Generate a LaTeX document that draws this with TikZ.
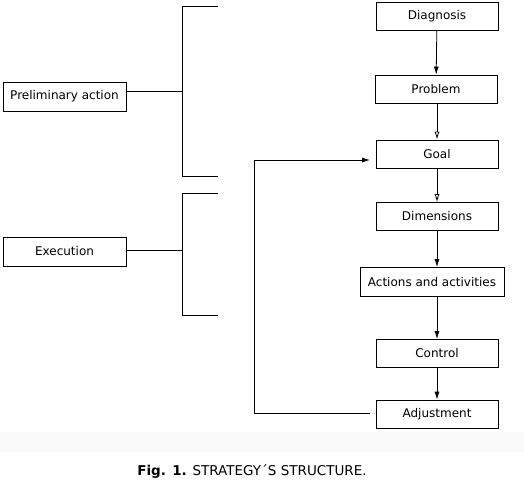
\documentclass[tikz,border=0pt]{standalone}
\usepackage{fontspec}
\setmainfont{DejaVu Sans}
\usetikzlibrary{arrows.meta}
\tikzset{
  stage/.style={draw, rectangle, line width=0.8pt, minimum width=122pt, minimum height=28pt, inner sep=2pt, align=center, font=\fontsize{12}{14}\selectfont},
  side/.style={draw, rectangle, line width=0.8pt, minimum width=123pt, minimum height=29pt, inner sep=2pt, align=center, font=\fontsize{12}{14}\selectfont},
  arrow/.style={line width=0.8pt, -{Latex[length=8pt,width=5pt]}},
  openarrow/.style={line width=0.8pt, -{Latex[open,length=8pt,width=5pt]}},
  bracket/.style={line width=0.8pt}
}
\begin{document}
\begin{tikzpicture}[x=1pt,y=-1pt]
  \useasboundingbox (0,0) rectangle (524,486);
  \fill[gray!4] (0,432) rectangle (524,452);
  % main sequence
  \node[stage] (diag) at (437,16) {Diagnosis};
  \node[stage] (prob) at (436,89) {Problem};
  \node[stage] (goal) at (437,154) {Goal};
  \node[stage] (dim) at (437,216.5) {Dimensions};
  \node[stage,minimum width=144pt,minimum height=29pt] (act) at (432,282) {Actions and activities};
  \node[stage] (ctrl) at (437,353.5) {Control};
  \node[stage] (adj) at (437,414) {Adjustment};
  \draw[arrow] (diag) -- (prob);
  \draw[openarrow] (diag.south |- prob.south) -- (goal);
  \draw[openarrow] (goal) -- (dim);
  \draw[arrow] (dim) -- (dim.south |- act.north);
  \draw[arrow] (dim.south |- act.south) -- (ctrl);
  \draw[arrow] (ctrl) -- (adj);
  % feedback
  \coordinate (adjout) at (370,413);
  \coordinate (goalin) at (370,160);
  \draw[arrow] (adjout) -| (254,160) -- (goalin);
  % phases
  \node[side] (pre) at (64.5,96.5) {Preliminary action};
  \node[side] (exe) at (64.5,251.5) {Execution};
  \coordinate (b1) at (182,91);
  \coordinate (b2) at (182,250);
  \draw[bracket] (pre.east |- b1) -- (b1);
  \draw[bracket] (218,6) -- (182,6) -- (182,176) -- (218,176);
  \draw[bracket] (exe.east |- b2) -- (b2);
  \draw[bracket] (218,193) -- (182,193) -- (182,315) -- (218,315);
  % caption
  \node[font=\fontsize{13.5}{16}\selectfont] (cap) at (252,472) {\textbf{Fig. 1.} STRATEGY´S STRUCTURE.};
\end{tikzpicture}
\end{document}
